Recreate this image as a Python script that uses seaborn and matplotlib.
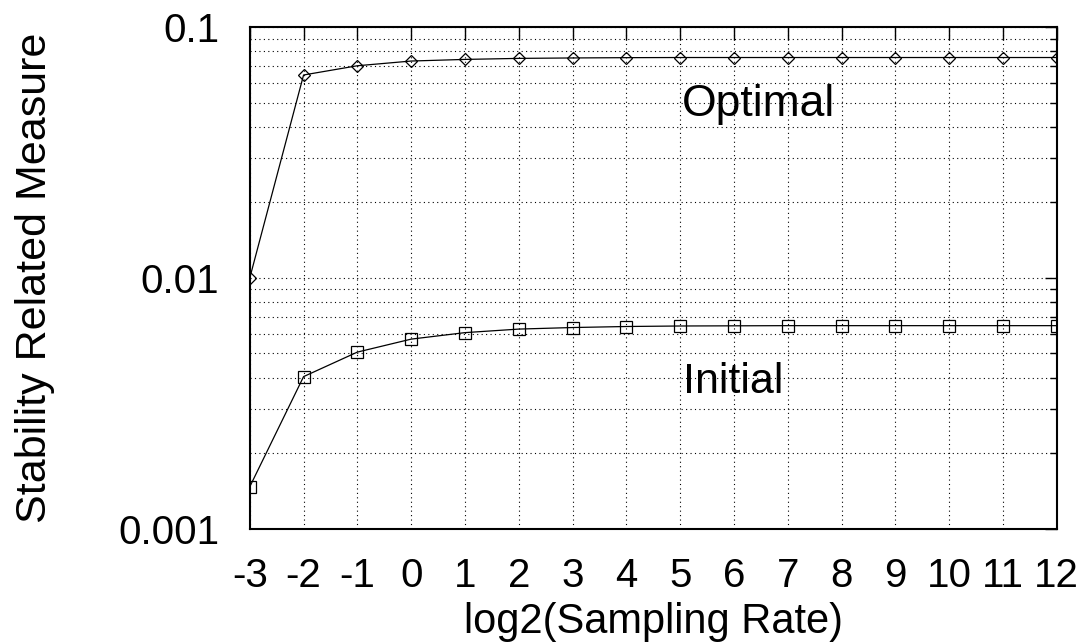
import numpy as np
import pandas as pd
import seaborn as sns
import matplotlib.pyplot as plt
from matplotlib.ticker import LogLocator, NullFormatter, FixedLocator, FixedFormatter

# Data
log2_rate = [-3, -2, -1, 0, 1, 2, 3, 4, 5, 6, 7, 8, 9, 10, 11, 12]
optimal = [0.0100, 0.0644, 0.0701, 0.0732, 0.0743, 0.0750, 0.0753, 0.0755,
           0.0756, 0.0756, 0.0756, 0.0756, 0.0756, 0.0756, 0.0756, 0.0756]
initial = [0.00147, 0.00404, 0.00506, 0.00570, 0.00605, 0.00625, 0.00634, 0.00640,
           0.00643, 0.00644, 0.00645, 0.00645, 0.00645, 0.00645, 0.00645, 0.00645]
y_ticks = [0.001, 0.01, 0.1]
y_tick_labels = ["0.001", "0.01", "0.1"]

df = pd.DataFrame({"x": log2_rate, "Optimal": optimal, "Initial": initial})

sns.set_style("white")
plt.rcParams["font.family"] = ["Liberation Sans", "DejaVu Sans"]
plt.rcParams["axes.unicode_minus"] = False
plt.rcParams.update({"text.color": "black", "axes.labelcolor": "black",
                     "xtick.color": "black", "ytick.color": "black"})

fig = plt.figure(figsize=(10.86, 6.44), dpi=100)
ax = fig.add_axes([0.230, 0.179, 0.743, 0.779])

sns.lineplot(data=df, x="x", y="Optimal", ax=ax, color="black", lw=0.9,
             marker="D", markersize=6, markerfacecolor="none", markeredgecolor="black",
             markeredgewidth=0.9)
sns.lineplot(data=df, x="x", y="Initial", ax=ax, color="black", lw=0.9,
             marker="s", markersize=9, markerfacecolor="none", markeredgecolor="black",
             markeredgewidth=0.9)

ax.set_yscale("log")
ax.set_ylim(0.001, 0.1)
ax.set_xlim(-3, 12)
ax.xaxis.set_major_locator(FixedLocator(log2_rate))
ax.yaxis.set_major_locator(FixedLocator(y_ticks))
ax.yaxis.set_major_formatter(FixedFormatter(y_tick_labels))
ax.yaxis.set_minor_locator(LogLocator(base=10, subs=np.arange(2, 10)))
ax.yaxis.set_minor_formatter(NullFormatter())

ax.grid(True, which="major", axis="both", color="black", linestyle=(0, (1, 3)), lw=0.8)
ax.grid(True, which="minor", axis="y", color="black", linestyle=(0, (1, 3)), lw=0.8)

ax.tick_params(axis="both", which="both", direction="in", top=True, right=True)
ax.tick_params(axis="both", which="major", length=9, width=1, labelsize=29)
ax.tick_params(axis="y", which="major", pad=22)
ax.tick_params(axis="x", which="major", pad=20)
ax.tick_params(axis="y", which="minor", length=5, width=1)
ax.tick_params(axis="x", which="minor", bottom=False, top=False)

for s in ax.spines.values():
    s.set_color("black")
    s.set_linewidth(1.5)

# curve labels
ax.text(5.03, 0.044, "Optimal", fontsize=32)
ax.text(5.05, 0.00347, "Initial", fontsize=31)

ax.set_xlabel("log2(Sampling Rate)", fontsize=30)
ax.set_ylabel("Stability Related Measure", fontsize=31)
ax.xaxis.set_label_coords(0.5, -0.147)
ax.yaxis.set_label_coords(-0.242, 0.5)

fig.savefig("out.png", dpi=100)
